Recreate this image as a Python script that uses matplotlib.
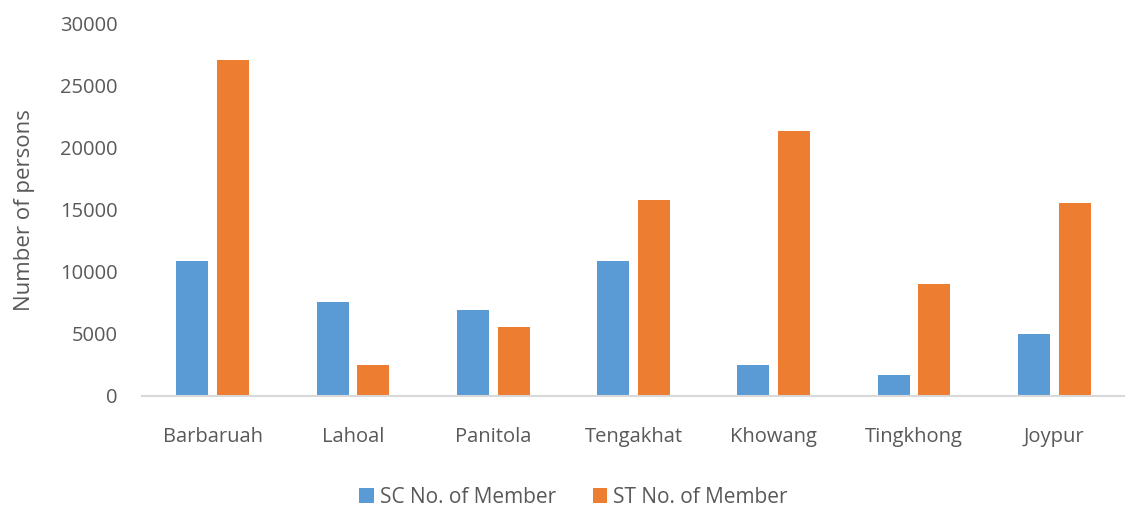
import matplotlib
matplotlib.use("Agg")
import matplotlib.pyplot as plt
import numpy as np

categories = ["Barbaruah", "Lahoal", "Panitola", "Tengakhat", "Khowang", "Tingkhong", "Joypur"]
sc_members = [10900, 7550, 6950, 10920, 2510, 1660, 5030]
st_members = [27100, 2490, 5530, 15780, 21380, 9040, 15590]
series_names = ["SC No. of Member", "ST No. of Member"]
yticks = [0, 5000, 10000, 15000, 20000, 25000, 30000]

plt.rcParams['font.family'] = ['Open Sans', 'DejaVu Sans']
text_color = "#595959"

fig = plt.figure(figsize=(11.29, 5.08), dpi=100)
ax = fig.add_axes([0.1262, 0.2205, 0.8698, 0.7323])

x = np.arange(len(categories))
w = 0.228
off = 0.145
ax.bar(x - off, sc_members, width=w, color="#5B9BD5", label=series_names[0])
ax.bar(x + off, st_members, width=w, color="#ED7D31", label=series_names[1])

ax.set_xlim(-0.5, len(categories) - 0.5)
ax.set_ylim(0, 30000)
ax.set_yticks(yticks)
ax.set_yticklabels([str(v) for v in yticks])
ax.set_xticks(x)
ax.set_xticklabels(categories)

for s in ["top", "right", "left"]:
    ax.spines[s].set_visible(False)
ax.spines["bottom"].set_color("#D9D9D9")
ax.spines["bottom"].set_linewidth(1.5)
ax.tick_params(axis="both", length=0, labelsize=14.5, colors=text_color)
ax.tick_params(axis="y", pad=18)
ax.tick_params(axis="x", pad=22)

ax.set_ylabel("Number of persons", fontsize=16, color=text_color, labelpad=18)

leg = fig.legend(loc="lower center", bbox_to_anchor=(0.508, -0.036), ncol=2, frameon=False,
                 fontsize=15, handlelength=0.7, handleheight=0.7, handletextpad=0.3,
                 columnspacing=1.75)
for t in leg.get_texts():
    t.set_color(text_color)

fig.savefig("out.png", dpi=100)
